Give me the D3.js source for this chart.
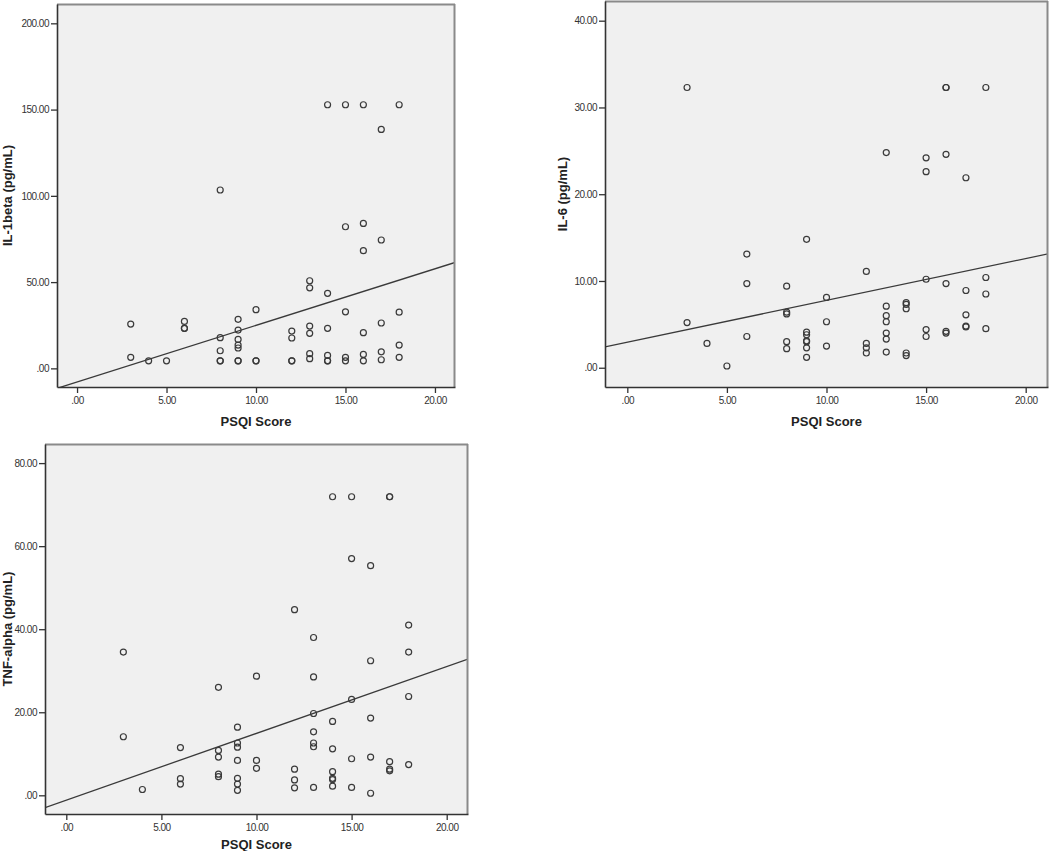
<!DOCTYPE html>
<html><head><meta charset="utf-8">
<script src="https://cdn.jsdelivr.net/npm/d3@7"></script>
<style>body{margin:0;background:#fff}svg{display:block}</style>
</head><body>
<svg id="c" width="1050" height="851"></svg>
<script>
// ---------- data ----------
const xTicks = [0, 5, 10, 15, 20];
const xTitle = "PSQI Score";

const il1bX = [14,15,16,18,17,8,15,16,16,17,13,13,14,10,15,18,3,6,6,6,9,9,8,9,9,9,8,12,12,13,13,14,17,16,18,17,16,13,13,14,15,18,3,4,5,8,8,9,9,10,10,12,12,14,14,15,16,17];
const il1bY = [152.8,152.8,152.8,152.8,138.5,103.4,82.1,84.0,68.2,74.4,50.8,46.7,43.5,34.0,32.8,32.6,25.7,27.2,23.2,23.2,28.4,22.2,17.8,16.8,13.5,11.8,10.2,21.6,17.6,24.5,20.3,23.2,26.3,20.7,13.5,9.6,8.1,8.5,5.6,7.5,6.4,6.4,6.4,4.4,4.4,4.4,4.4,4.4,4.4,4.4,4.4,4.4,4.4,4.4,4.4,4.4,4.4,5.0];
const il1bTicks = [0, 50, 100, 150, 200];
const il1bFit = {intercept: -7.9, slope: 3.28};

const il6X = [3,16,16,18,13,15,15,16,17,9,6,12,6,8,15,16,18,17,18,10,8,8,14,14,14,13,13,13,10,3,17,17,17,15,15,16,16,18,6,9,9,9,9,9,9,8,8,4,5,10,12,12,12,13,13,13,14,14];
const il6Y = [32.3,32.3,32.3,32.3,24.8,24.2,22.6,24.6,21.9,14.8,13.1,11.1,9.7,9.4,10.2,9.7,10.4,8.9,8.5,8.1,6.4,6.2,7.5,7.3,6.8,7.1,6.0,5.3,5.3,5.2,6.1,4.8,4.7,4.4,3.6,4.2,4.0,4.5,3.6,4.1,3.8,3.1,3.0,2.3,1.2,3.0,2.2,2.8,0.2,2.5,2.8,2.3,1.7,4.0,3.3,1.8,1.7,1.4];
const il6Ticks = [0, 10, 20, 30, 40];
const il6Fit = {intercept: 2.94, slope: 0.482};

const tnfX = [14,15,17,17,15,16,12,13,18,3,18,16,10,13,8,18,15,13,16,14,9,3,13,9,9,13,13,6,14,8,8,15,16,9,10,17,18,10,12,17,17,14,8,8,6,9,14,14,12,6,9,14,9,4,12,13,15,16];
const tnfY = [71.9,71.9,71.9,71.9,57.0,55.3,44.7,38.0,41.0,34.5,34.5,32.4,28.7,28.5,26.0,23.8,23.1,19.7,18.6,17.8,16.4,14.1,15.3,12.6,11.6,12.6,11.7,11.5,11.2,10.8,9.2,8.8,9.2,8.4,8.4,8.1,7.4,6.5,6.3,6.3,5.9,5.7,5.1,4.5,4.0,4.1,4.1,3.8,3.7,2.7,2.7,2.2,1.2,1.4,1.8,1.9,1.9,0.5];
const tnfTicks = [0, 20, 40, 60, 80];
const tnfFit = {intercept: -1.16, slope: 1.608};

// ---------- layout ----------
const xDomain = [-1.12, 21.12];
const panels = [
  {x: il1bX, y: il1bY, yTicks: il1bTicks, yDomain: [-10.8, 211.2], fit: il1bFit, yTitle: "IL-1beta (pg/mL)",
   box: {l: 57, t: 4, r: 455, b: 387}, yTitleX: 12, xTitleY: 426},
  {x: il6X, y: il6Y, yTicks: il6Ticks, yDomain: [-2.22, 42.27], fit: il6Fit, yTitle: "IL-6 (pg/mL)",
   box: {l: 605, t: 1, r: 1048, b: 387}, yTitleX: 567, xTitleY: 426},
  {x: tnfX, y: tnfY, yTicks: tnfTicks, yDomain: [-4.5, 84.6], fit: tnfFit, yTitle: "TNF-alpha (pg/mL)",
   box: {l: 45, t: 444, r: 468, b: 814}, yTitleX: 12, xTitleY: 849}
];

const svg = d3.select("#c");
const fmt = d => (d === 0 ? ".00" : d3.format(".2f")(d));
const FONT = "'Liberation Sans', Arial, sans-serif";

panels.forEach((p, i) => {
  const {l, t, r, b} = p.box;
  const x = d3.scaleLinear().domain(xDomain).range([l, r]);
  const y = d3.scaleLinear().domain(p.yDomain).range([b, t]);
  const g = svg.append("g");

  g.append("rect").attr("x", l).attr("y", t).attr("width", r - l).attr("height", b - t).attr("fill", "#f0f0f0");

  const clipId = "clip" + i;
  g.append("clipPath").attr("id", clipId).append("rect")
    .attr("x", l).attr("y", t).attr("width", r - l).attr("height", b - t);

  // regression line
  g.append("line").attr("clip-path", `url(#${clipId})`)
    .attr("x1", x(xDomain[0])).attr("y1", y(p.fit.intercept + p.fit.slope * xDomain[0]))
    .attr("x2", x(xDomain[1])).attr("y2", y(p.fit.intercept + p.fit.slope * xDomain[1]))
    .attr("stroke", "#3a3a3a").attr("stroke-width", 1.3);

  // points
  g.append("g").selectAll("circle").data(p.x.map((v, k) => [v, p.y[k]])).join("circle")
    .attr("cx", d => x(d[0])).attr("cy", d => y(d[1])).attr("r", 3)
    .attr("fill", "none").attr("stroke", "#3a3a3a").attr("stroke-width", 1.2);

  // frame: top/right gray, left/bottom dark
  g.append("line").attr("x1", l).attr("x2", r).attr("y1", t + 0.5).attr("y2", t + 0.5).attr("stroke", "#8a8a8a").attr("stroke-width", 2);
  g.append("line").attr("x1", r - 0.5).attr("x2", r - 0.5).attr("y1", t).attr("y2", b).attr("stroke", "#8a8a8a").attr("stroke-width", 2);

  // axes
  const yAxis = d3.axisLeft(y).tickValues(p.yTicks).tickFormat(fmt).tickSize(6).tickSizeOuter(0).tickPadding(2);
  const xAxis = d3.axisBottom(x).tickValues(xTicks).tickFormat(fmt).tickSize(6).tickSizeOuter(0).tickPadding(4);
  const ya = g.append("g").attr("transform", `translate(${l},0)`).call(yAxis);
  const xa = g.append("g").attr("transform", `translate(0,${b})`).call(xAxis);
  [ya, xa].forEach(a => {
    a.select(".domain").attr("stroke", "#333").attr("stroke-width", 1.6);
    a.selectAll(".tick line").attr("stroke", "#333").attr("stroke-width", 1.3);
    a.selectAll(".tick text").attr("fill", "#333").style("font-family", FONT)
      .style("font-size", "10px").style("letter-spacing", "-0.5px");
  });

  // titles
  g.append("text").attr("x", (l + r) / 2).attr("y", p.xTitleY).attr("text-anchor", "middle")
    .style("font-family", FONT).style("font-weight", "bold").style("font-size", "13px").attr("fill", "#222")
    .text(xTitle);
  g.append("text").attr("transform", `translate(${p.yTitleX},${(t + b) / 2}) rotate(-90)`)
    .attr("text-anchor", "middle")
    .style("font-family", FONT).style("font-weight", "bold").style("font-size", "13px").attr("fill", "#222")
    .text(p.yTitle);
});
</script>
</body></html>
